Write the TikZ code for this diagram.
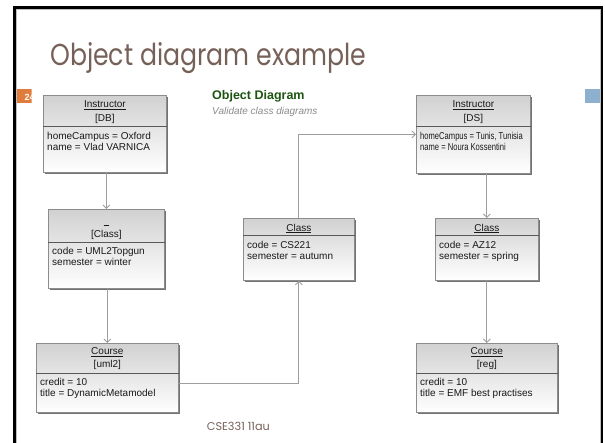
\documentclass[tikz,border=0pt]{standalone}
\usepackage{graphicx}
\usepackage{fontspec}
\setmainfont{Liberation Sans}
\newfontfamily\titlefont{Poppins}
\usetikzlibrary{shadows,arrows.meta}
\definecolor{titlecol}{RGB}{118,97,88}
\definecolor{odgreen}{RGB}{30,84,18}
\definecolor{pgorange}{RGB}{224,124,60}
\definecolor{pgblue}{RGB}{140,176,206}
\definecolor{txt}{RGB}{25,25,25}
\tikzset{
  objbox/.style={rectangle, draw=black!45, line width=0.7pt, inner sep=0pt,
    top color=black!18, bottom color=white,
    drop shadow={shadow xshift=1.6pt, shadow yshift=-1.6pt, fill=black!55, opacity=1}},
  sepline/.style={draw=black!65, line width=0.8pt},
  hdr/.style={anchor=base, inner sep=0pt, text=txt, font=\fontsize{10}{12}\selectfont},
  bodytxt/.style={anchor=base west, inner sep=0pt, text=txt, font=\fontsize{10}{12}\selectfont},
  conn/.style={draw=black!38, line width=0.9pt, -{Straight Barb[length=3.5pt,width=7pt]}},
}
\newcommand\mkbox[5]{%
  \node[objbox, minimum width={#4-#2}, minimum height={#5-#3}, anchor=north west] (#1) at (#2,#3) {};}
\begin{document}
\begin{tikzpicture}[x=1pt,y=-1pt]
\useasboundingbox (0,0) rectangle (605,442);
\fill[white] (0,0) rectangle (605,442);

% page tabs
\begin{scope}
  \clip (15.7,89.3) rectangle (31.7,103.3);
  \fill[pgorange] (15.7,89.3) rectangle (31.7,103.3);
  \node[anchor=base west, inner sep=0pt, text=white, font=\bfseries\fontsize{9}{10}\selectfont] (pgnum) at (24.5,100) {24};
\end{scope}
\fill[pgblue] (585,89.3) rectangle (600.7,103.3);

% slide frame
\draw[line width=2.6pt] (14.5,460) -- (14.5,7.2) -- (602,7.2) -- (602,460);
\draw[black!25, line width=0.6pt] (16.5,460) -- (16.5,9.5) -- (600,9.5) -- (600,460);

% title
\node[anchor=base west, inner sep=0pt, text=titlecol] (title) at (50,65)
  {\resizebox{316pt}{23pt}{\titlefont Object diagram example}};
\node[anchor=base west, inner sep=0pt, text=titlecol] (foot) at (206.7,430)
  {\resizebox{63pt}{!}{\titlefont CSE331 11au}};

\node[anchor=base west, inner sep=0pt, text=odgreen, font=\bfseries\fontsize{12.5}{14}\selectfont] (odtitle) at (212,99) {Object Diagram};
\node[anchor=base west, inner sep=0pt, text=black!45, font=\itshape\fontsize{10}{12}\selectfont] (odsub) at (212,114.5) {Validate class diagrams};

% boxes
\mkbox{db}{43}{95}{166}{172}
\mkbox{cls1}{48}{209}{164}{288}
\mkbox{uml2}{36}{343}{178}{412}
\mkbox{cs221}{243}{218}{354}{280}
\mkbox{ds}{416}{95}{530}{173}
\mkbox{az12}{435}{218}{538}{280}
\mkbox{reg}{416}{343}{557}{412}

% Instructor DB
\node[hdr] (dbh1) at (db.north |- 0,107.5) {\underline{Instructor}};
\node[hdr] (dbh2) at (db.north |- 0,121.5) {[DB]};
\draw[sepline] (db.west |- 0,126.5) -- (db.east |- 0,126.5);
\node[bodytxt] (dbb1) at (47,139.5) {homeCampus = Oxford};
\node[bodytxt] (dbb2) at (47,150.5) {name = Vlad VARNICA};

% [Class]
\node[hdr] (c1h1) at (cls1.north |- 0,223.5) {\underline{\hphantom{n}}};
\node[hdr] (c1h2) at (cls1.north |- 0,237) {[Class]};
\draw[sepline] (cls1.west |- 0,242) -- (cls1.east |- 0,242);
\node[bodytxt] (c1b1) at (52,254.5) {code = UML2Topgun};
\node[bodytxt] (c1b2) at (52,265.5) {semester = winter};

% Course uml2
\node[hdr] (u2h1) at (uml2.north |- 0,354.5) {\underline{Course}};
\node[hdr] (u2h2) at (uml2.north |- 0,367.5) {[uml2]};
\draw[sepline] (uml2.west |- 0,373) -- (uml2.east |- 0,373);
\node[bodytxt] (u2b1) at (40,385.5) {credit = 10};
\node[bodytxt] (u2b2) at (40,396.5) {title = DynamicMetamodel};

% Class CS221
\node[hdr] (csh1) at (cs221.north |- 0,231) {\underline{Class}};
\draw[sepline] (cs221.west |- 0,235.5) -- (cs221.east |- 0,235.5);
\node[bodytxt] (csb1) at (247,248) {code = CS221};
\node[bodytxt] (csb2) at (247,259) {semester = autumn};

% Instructor DS
\node[hdr] (dsh1) at (ds.north |- 0,107.5) {\underline{Instructor}};
\node[hdr] (dsh2) at (ds.north |- 0,121.5) {[DS]};
\draw[sepline] (ds.west |- 0,126.5) -- (ds.east |- 0,126.5);
\node[bodytxt] (dsb1) at (420,139.5) {\scalebox{0.76}[1]{homeCampus = Tunis, Tunisia}};
\node[bodytxt] (dsb2) at (420,150.5) {\scalebox{0.76}[1]{name = Noura Kossentini}};

% Class AZ12
\node[hdr] (azh1) at (az12.north |- 0,231) {\underline{Class}};
\draw[sepline] (az12.west |- 0,235.5) -- (az12.east |- 0,235.5);
\node[bodytxt] (azb1) at (439,248) {code = AZ12};
\node[bodytxt] (azb2) at (439,259) {semester = spring};

% Course reg
\node[hdr] (rgh1) at (reg.north |- 0,354.5) {\underline{Course}};
\node[hdr] (rgh2) at (reg.north |- 0,367.5) {[reg]};
\draw[sepline] (reg.west |- 0,373) -- (reg.east |- 0,373);
\node[bodytxt] (rgb1) at (420,385.5) {credit = 10};
\node[bodytxt] (rgb2) at (420,396.5) {title = EMF best practises};

% connectors
\draw[conn] (cls1.north |- db.south) -- (cls1.north);
\draw[conn] (uml2.north |- cls1.south) -- (uml2.north);
\draw[conn] ([yshift=-6pt]uml2.east) -| (cs221.south);
\draw[conn] (cs221.north) |- (ds.west);
\draw[conn] (az12.north |- ds.south) -- (az12.north);
\draw[conn] (reg.north |- az12.south) -- (reg.north);
\end{tikzpicture}
\end{document}
